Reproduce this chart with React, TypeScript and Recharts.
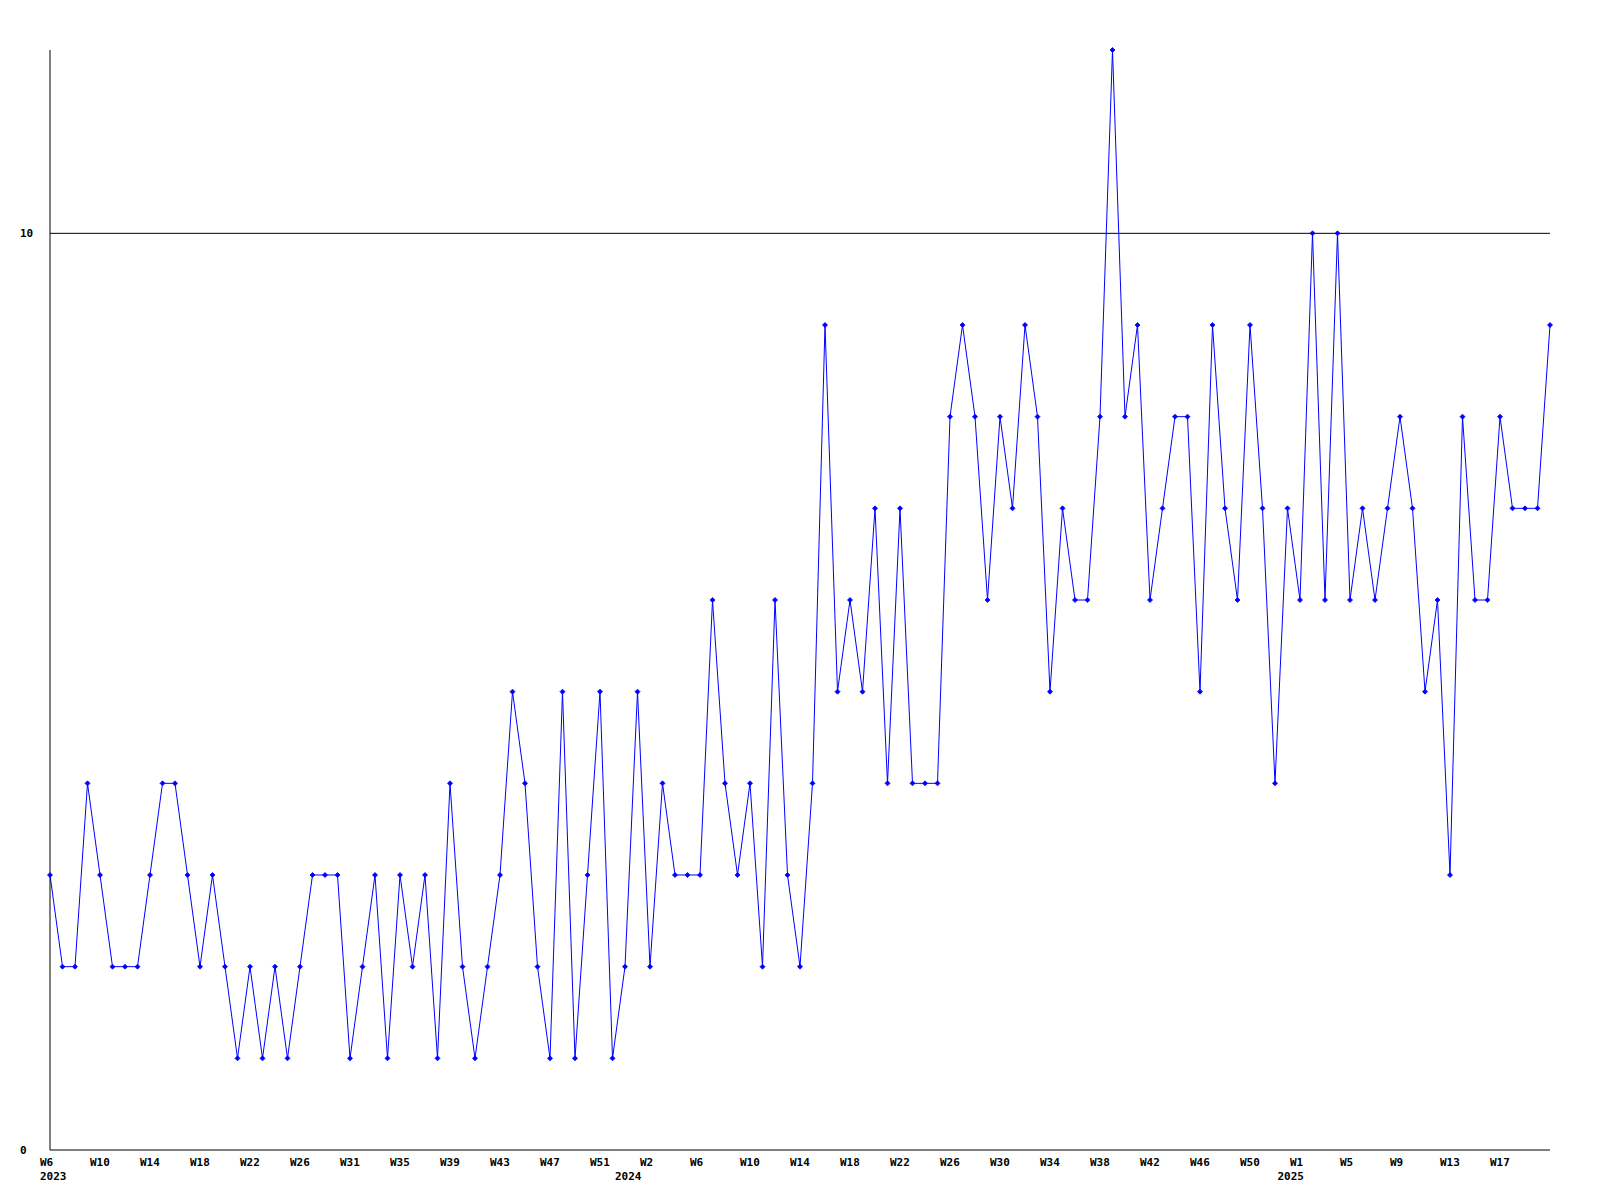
import React from "react";
import { LineChart, Line, XAxis, YAxis, ReferenceLine } from "recharts";

// weekly counts, W6 2023 .. W18 2025
const counts = [
    3, 2, 2, 4, 3, 2, 2, 2, 3, 4,
    4, 3, 2, 3, 2, 1, 2, 1, 2, 1,
    2, 3, 3, 3, 1, 2, 3, 1, 3, 2,
    3, 1, 4, 2, 1, 2, 3, 5, 4, 2,
    1, 5, 1, 3, 5, 1, 2, 5, 2, 4,
    3, 3, 3, 6, 4, 3, 4, 2, 6, 3,
    2, 4, 9, 5, 6, 5, 7, 4, 7, 4,
    4, 4, 8, 9, 8, 6, 8, 7, 9, 8,
    5, 7, 6, 6, 8, 12, 8, 9, 6, 7,
    8, 8, 5, 9, 7, 6, 9, 7, 4, 7,
    6, 10, 6, 10, 6, 7, 6, 7, 8, 7,
    5, 6, 3, 8, 6, 6, 8, 7, 7, 7,
    9,
];

// a week label under every 4th point
const weekLabels = [
    "W6", "W10", "W14", "W18", "W22", "W26", "W31", "W35", "W39", "W43",
    "W47", "W51", "W2", "W6", "W10", "W14", "W18", "W22", "W26", "W30",
    "W34", "W38", "W42", "W46", "W50", "W1", "W5", "W9", "W13", "W17",
];
const weekStep = 4;

const yearPositions = [0, 46, 99];
const yearLabels = ["2023", "2024", "2025"];

const yTicks = [0, 10];
const yMax = 12;
const limit = 10;

const rows = counts.map((v, i) => ({ i, v }));
const weekTicks = weekLabels.map((_, k) => k * weekStep);

const font = "'DejaVu Sans Mono', 'Liberation Mono', monospace";

const WeekTick = (props: any) => {
    const { x, y, payload } = props;
    return (
        <text x={x - 10} y={y} dy="0.71em" textAnchor="start" fontFamily={font} fontSize={11} fontWeight="bold" fill="#000">
            {weekLabels[payload.value / weekStep]}
        </text>
    );
};

const YearTick = (props: any) => {
    const { x, y, payload } = props;
    return (
        <text x={x - 10} y={y} dy="0.71em" textAnchor="start" fontFamily={font} fontSize={11} fontWeight="bold" fill="#000">
            {yearLabels[yearPositions.indexOf(payload.value)]}
        </text>
    );
};

const YTick = (props: any) => {
    const { x, y, payload } = props;
    return (
        <text x={x} y={y} dy="0.35em" textAnchor="start" fontFamily={font} fontSize={11} fontWeight="bold" fill="#000">
            {payload.value}
        </text>
    );
};

const Dot = (props: any) => {
    const { cx, cy, index } = props;
    if (cx == null || cy == null) return <g key={index} />;
    const r = 2.5;
    return (
        <polygon
            key={index}
            points={`${cx - r},${cy} ${cx},${cy - r} ${cx + r},${cy} ${cx},${cy + r}`}
            fill="#0000ff"
            stroke="#0000ff"
            strokeWidth={0.8}
        />
    );
};

const App = () => {
    return (
        <div style={{ position: "absolute", left: 0, top: 0, background: "#fff" }}>
            <LineChart
                width={1600}
                height={1200}
                data={rows}
                margin={{ top: 50, right: 50, bottom: 0, left: 0 }}
            >
                <XAxis
                    dataKey="i"
                    type="number"
                    domain={[0, counts.length - 1]}
                    ticks={weekTicks}
                    interval={0}
                    tick={<WeekTick />}
                    tickLine={false}
                    tickSize={0}
                    tickMargin={8}
                    height={20}
                    axisLine={{ stroke: "#000" }}
                />
                <XAxis
                    xAxisId="year"
                    dataKey="i"
                    type="number"
                    domain={[0, counts.length - 1]}
                    ticks={yearPositions}
                    interval={0}
                    tick={<YearTick />}
                    tickLine={false}
                    tickSize={0}
                    tickMargin={2}
                    height={30}
                    axisLine={false}
                />
                <YAxis
                    type="number"
                    domain={[0, yMax]}
                    ticks={yTicks}
                    interval={0}
                    width={50}
                    tick={<YTick />}
                    tickLine={false}
                    tickSize={0}
                    tickMargin={30}
                    axisLine={{ stroke: "#000" }}
                />
                <ReferenceLine y={limit} stroke="#000" strokeWidth={1} />
                <Line
                    dataKey="v"
                    type="linear"
                    stroke="#0000ff"
                    strokeWidth={1}
                    dot={Dot}
                    activeDot={false}
                    isAnimationActive={false}
                />
            </LineChart>
        </div>
    );
};

export default App;
